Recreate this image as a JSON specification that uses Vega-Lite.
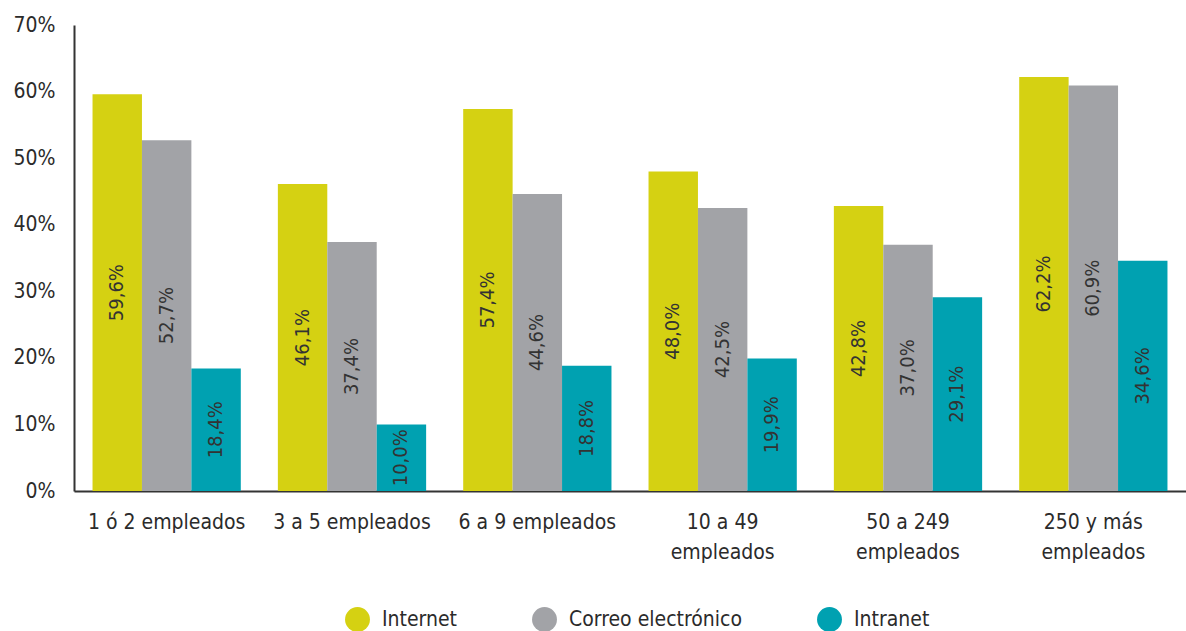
{
  "$schema": "https://vega.github.io/schema/vega-lite/v6.json",
  "width": 1112,
  "height": 466,
  "autosize": {"type": "none"},
  "padding": {"left": 74, "top": 25, "right": 0, "bottom": 140},
  "background": "white",
  "config": {
    "font": "Liberation Sans Narrow, DejaVu Sans Condensed, sans-serif",
    "view": {"stroke": null}
  },
  "data": {
    "values": [
      {"grupo": "1 ó 2 empleados", "serie": "Internet", "valor": 59.6},
      {"grupo": "1 ó 2 empleados", "serie": "Correo electrónico", "valor": 52.7},
      {"grupo": "1 ó 2 empleados", "serie": "Intranet", "valor": 18.4},
      {"grupo": "3 a 5 empleados", "serie": "Internet", "valor": 46.1},
      {"grupo": "3 a 5 empleados", "serie": "Correo electrónico", "valor": 37.4},
      {"grupo": "3 a 5 empleados", "serie": "Intranet", "valor": 10.0},
      {"grupo": "6 a 9 empleados", "serie": "Internet", "valor": 57.4},
      {"grupo": "6 a 9 empleados", "serie": "Correo electrónico", "valor": 44.6},
      {"grupo": "6 a 9 empleados", "serie": "Intranet", "valor": 18.8},
      {"grupo": "10 a 49|empleados", "serie": "Internet", "valor": 48.0},
      {"grupo": "10 a 49|empleados", "serie": "Correo electrónico", "valor": 42.5},
      {"grupo": "10 a 49|empleados", "serie": "Intranet", "valor": 19.9},
      {"grupo": "50 a 249|empleados", "serie": "Internet", "valor": 42.8},
      {"grupo": "50 a 249|empleados", "serie": "Correo electrónico", "valor": 37.0},
      {"grupo": "50 a 249|empleados", "serie": "Intranet", "valor": 29.1},
      {"grupo": "250 y más|empleados", "serie": "Internet", "valor": 62.2},
      {"grupo": "250 y más|empleados", "serie": "Correo electrónico", "valor": 60.9},
      {"grupo": "250 y más|empleados", "serie": "Intranet", "valor": 34.6}
    ]
  },
  "transform": [
    {"calculate": "datum.valor / 2", "as": "mitad"},
    {"calculate": "replace(format(datum.valor, '.1f'), '.', ',') + '%'", "as": "etiqueta"}
  ],
  "encoding": {
    "x": {
      "field": "grupo",
      "type": "nominal",
      "sort": ["1 ó 2 empleados", "3 a 5 empleados", "6 a 9 empleados", "10 a 49|empleados", "50 a 249|empleados", "250 y más|empleados"],
      "scale": {"paddingInner": 0.2, "paddingOuter": 0.1},
      "axis": {
        "title": null,
        "labelAngle": 0,
        "labelExpr": "split(datum.value, '|')",
        "labelFontSize": 21,
        "labelColor": "#2b2b2b",
        "labelPadding": 20,
        "labelLineHeight": 30,
        "labelBaseline": "top",
        "ticks": false,
        "domainColor": "#333333",
        "domainWidth": 2
      }
    },
    "xOffset": {
      "field": "serie",
      "type": "nominal",
      "sort": ["Internet", "Correo electrónico", "Intranet"],
      "scale": {"paddingInner": 0, "paddingOuter": 0}
    }
  },
  "layer": [
    {
      "mark": {"type": "bar"},
      "encoding": {
        "y": {
          "field": "valor",
          "type": "quantitative",
          "scale": {"domain": [0, 70], "nice": false},
          "axis": {
            "title": null,
            "values": [0, 10, 20, 30, 40, 50, 60, 70],
            "labelExpr": "datum.value + '%'",
            "grid": false,
            "ticks": false,
            "labelFontSize": 21,
            "labelColor": "#2b2b2b",
            "labelPadding": 19,
            "domainColor": "#333333",
            "domainWidth": 2
          }
        },
        "color": {
          "field": "serie",
          "type": "nominal",
          "sort": ["Internet", "Correo electrónico", "Intranet"],
          "scale": {
            "domain": ["Internet", "Correo electrónico", "Intranet"],
            "range": ["#D5D112", "#A2A3A7", "#00A1B1"]
          },
          "legend": {
            "title": null,
            "orient": "none",
            "legendX": 271,
            "legendY": 582,
            "direction": "horizontal",
            "symbolType": "circle",
            "symbolSize": 620,
            "symbolStrokeWidth": 0,
            "labelFontSize": 21,
            "labelColor": "#2b2b2b",
            "labelOffset": 12,
            "labelLimit": 400,
            "columnPadding": 75
          }
        }
      }
    },
    {
      "mark": {"type": "text", "angle": 270, "align": "center", "baseline": "middle", "fontSize": 20, "color": "#333333"},
      "encoding": {
        "y": {"field": "mitad", "type": "quantitative"},
        "text": {"field": "etiqueta", "type": "nominal"}
      }
    }
  ]
}
